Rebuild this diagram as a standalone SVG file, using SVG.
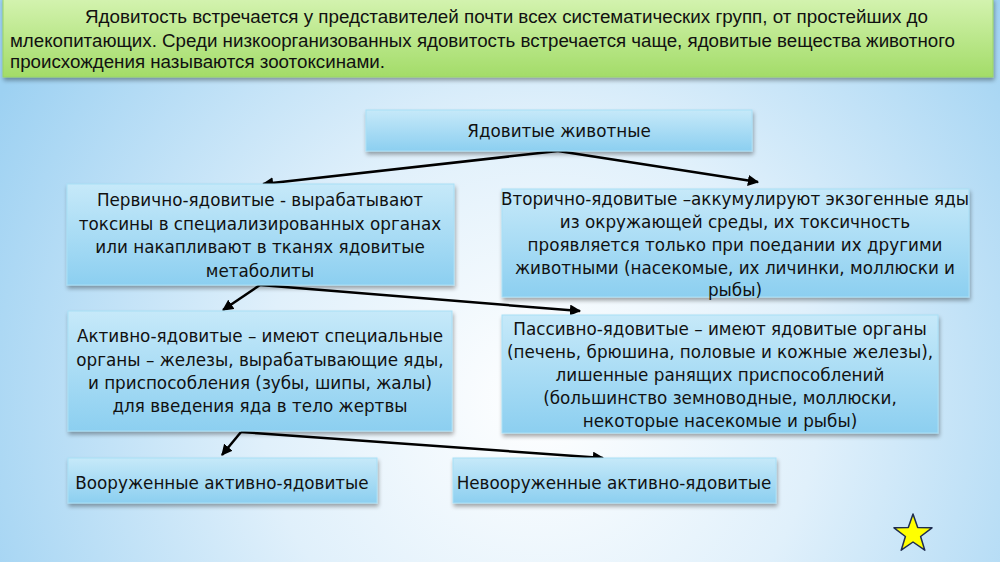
<svg xmlns="http://www.w3.org/2000/svg" width="1000" height="562" viewBox="0 0 1000 562">
<defs>
<radialGradient id="bg" cx="540" cy="400" r="620" gradientUnits="userSpaceOnUse">
<stop offset="0" stop-color="#ffffff"/>
<stop offset="0.45" stop-color="#e0f0fb"/>
<stop offset="1" stop-color="#9dd1f2"/>
</radialGradient>
<linearGradient id="green" x1="0" y1="0" x2="0" y2="1">
<stop offset="0" stop-color="#d4f3b0"/>
<stop offset="1" stop-color="#a3dc68"/>
</linearGradient>
<linearGradient id="box" x1="0" y1="0" x2="0" y2="1">
<stop offset="0" stop-color="#c6e9f9"/>
<stop offset="1" stop-color="#8ccff0"/>
</linearGradient>
<filter id="sh" x="-5%" y="-10%" width="110%" height="130%">
<feGaussianBlur in="SourceAlpha" stdDeviation="2"/>
<feOffset dx="1" dy="3" result="b"/>
<feComponentTransfer><feFuncA type="linear" slope="0.35"/></feComponentTransfer>
<feMerge><feMergeNode/><feMergeNode in="SourceGraphic"/></feMerge>
</filter>
<marker id="arr" viewBox="0 0 10 10" refX="9" refY="5" markerWidth="4.5" markerHeight="4.5" orient="auto" markerUnits="strokeWidth">
<path d="M0,0 L10,5 L0,10 z" fill="#000"/>
</marker>
</defs>
<style>
.node{fill:url(#box);stroke:#a8dff6;stroke-width:1;filter:url(#sh)}
.t{font-family:"DejaVu Sans","Noto Sans",sans-serif;font-size:16.8px;fill:#111;text-anchor:middle}
.h{font-family:"Liberation Sans","Noto Sans",sans-serif;font-size:17.5px;fill:#111}
.c{fill:none;stroke:#000;stroke-width:2.5;marker-end:url(#arr)}
</style>
<rect width="1000" height="562" fill="url(#bg)"/>
<g id="header">
<rect x="3" y="-2" width="990" height="79" fill="url(#green)" stroke="#9ad466" stroke-width="1" filter="url(#sh)"/>
<text class="h" x="85" y="23" textLength="843" lengthAdjust="spacingAndGlyphs">Ядовитость встречается у представителей почти всех систематических групп, от простейших до</text>
<text class="h" x="10" y="47" textLength="945" lengthAdjust="spacingAndGlyphs">млекопитающих. Среди низкоорганизованных ядовитость встречается чаще, ядовитые вещества животного</text>
<text class="h" x="10" y="68" textLength="375" lengthAdjust="spacingAndGlyphs">происхождения называются зоотоксинами.</text>
</g>
<g id="connectors">
<path class="c" d="M558,151 L263,184"/>
<path class="c" d="M558,151 L758,182"/>
<path class="c" d="M260,285 L223,310"/>
<path class="c" d="M260,285 L580,311"/>
<path class="c" d="M241,432 L222,455"/>
<path class="c" d="M241,432 L603,458"/>
</g>
<g id="n-root">
<rect class="node" x="366" y="110" width="386" height="41"/>
<text class="t" x="559" y="137">Ядовитые животные</text>
</g>
<g id="n-primary">
<rect class="node" x="67" y="184" width="387" height="101"/>
<text class="t" x="260" y="206">Первично-ядовитые - вырабатывают</text>
<text class="t" x="260" y="229.5">токсины в специализированных органах</text>
<text class="t" x="260" y="253">или накапливают в тканях ядовитые</text>
<text class="t" x="260" y="276.5">метаболиты</text>
</g>
<g id="n-secondary">
<rect class="node" x="502" y="189" width="467" height="108"/>
<text class="t" x="735" y="205">Вторично-ядовитые –аккумулируют экзогенные яды</text>
<text class="t" x="735" y="228">из окружающей среды, их токсичность</text>
<text class="t" x="735" y="251">проявляется только при поедании их другими</text>
<text class="t" x="735" y="274">животными (насекомые, их личинки, моллюски и</text>
<text class="t" x="735" y="296">рыбы)</text>
</g>
<g id="n-active">
<rect class="node" x="68" y="311" width="384" height="120"/>
<text class="t" x="260" y="342">Активно-ядовитые – имеют специальные</text>
<text class="t" x="260" y="366">органы – железы, вырабатывающие яды,</text>
<text class="t" x="260" y="389">и приспособления (зубы, шипы, жалы)</text>
<text class="t" x="260" y="412">для введения яда в тело жертвы</text>
</g>
<g id="n-passive">
<rect class="node" x="502" y="315" width="436" height="118"/>
<text class="t" x="720" y="335">Пассивно-ядовитые – имеют ядовитые органы</text>
<text class="t" x="720" y="358">(печень, брюшина, половые и кожные железы),</text>
<text class="t" x="720" y="381">лишенные ранящих приспособлений</text>
<text class="t" x="720" y="404">(большинство земноводные, моллюски,</text>
<text class="t" x="720" y="427">некоторые насекомые и рыбы)</text>
</g>
<g id="n-armed">
<rect class="node" x="68" y="458" width="309" height="45"/>
<text class="t" x="222" y="489">Вооруженные активно-ядовитые</text>
</g>
<g id="n-unarmed">
<rect class="node" x="453" y="458" width="323" height="45"/>
<text class="t" x="614" y="489">Невооруженные активно-ядовитые</text>
</g>
<g id="star">
<polygon points="913,514 917.7,527.5 932,527.8 920.6,536.5 924.8,550.2 913,542 901.2,550.2 905.4,536.5 894,527.8 908.3,527.5" fill="#ffff00" stroke="#1f2d4f" stroke-width="1.5" stroke-linejoin="round"/>
</g>
</svg>
